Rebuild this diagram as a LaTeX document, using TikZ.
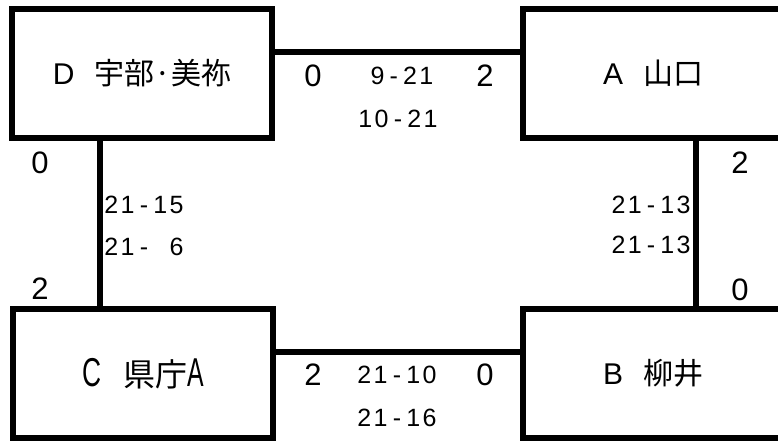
\documentclass[tikz,border=0pt]{standalone}
\usepackage{fontspec}
\setmainfont{Liberation Sans}
\newfontfamily\cjk{Noto Sans CJK JP}
\newcommand\cel[1]{\makebox[16.3pt]{#1}}
\newcommand\cj[1]{{\cjk\fontsize{30}{30}\selectfont #1}}
\newcommand\lt[1]{{\fontsize{30}{30}\selectfont #1}}
\begin{document}
\begin{tikzpicture}[x=1pt,y=-1pt,
  team/.style={draw,line width=6pt,minimum width=260pt,minimum height=129pt,inner sep=0pt},
  link/.style={line width=6pt},
  big/.style={inner sep=0pt,font=\fontsize{31}{31}\selectfont},
  small/.style={inner sep=0pt,font=\fontsize{25}{25}\selectfont}]
\clip (0,0) rectangle (778,441);
\fill[white] (0,0) rectangle (778,441);
\node[team] (D) at (142,73.5) {\lt{D}\hspace{20pt}\cj{宇部·美祢}};
\node[team] (A) at (653,73.5) {\lt{A}\hspace{20pt}\cj{山口}};
\node[team] (C) at (143,373.5) {\raisebox{-8pt}{\fontsize{31}{31}\selectfont\scalebox{0.85}[1.3]{C}\hspace{22pt}{\cjk\fontsize{32}{32}\selectfont 県庁}\scalebox{0.8}[1.3]{A}}};
\node[team] (B) at (653,373.5) {\lt{B}\hspace{20pt}\cj{柳井}};
\draw[link] ([yshift=21.5pt]D.east) -- ([yshift=21.5pt]A.west);
\draw[link] ([yshift=21.5pt]C.east) -- ([yshift=21.5pt]B.west);
\draw[link] ([xshift=-42pt]D.south) -- ([xshift=-43pt]C.north);
\draw[link] ([xshift=43pt]A.south) -- ([xshift=43pt]B.north);
% top match
\node[big] (t1) at (313,76) {0};
\node[big] (t2) at (485,76) {2};
\node[small] (t3) at (402,76) {\cel9\cel-\cel2\cel1};
\node[small] (t4) at (398,119) {\cel1\cel0\cel-\cel2\cel1};
% bottom match
\node[big] (b1) at (313,375) {2};
\node[big] (b2) at (485,375) {0};
\node[small] (b3) at (397,375) {\cel2\cel1\cel-\cel1\cel0};
\node[small] (b4) at (397,418) {\cel2\cel1\cel-\cel1\cel6};
% left match
\node[big] (l1) at (40,163) {0};
\node[big] (l2) at (40,289) {2};
\node[small,anchor=west] (l3) at (103,205) {\cel2\cel1\cel-\cel1\cel5};
\node[small,anchor=west] (l4) at (103,247) {\cel2\cel1\cel-\cel{}\cel6};
% right match
\node[big] (r1) at (740,163) {2};
\node[big] (r2) at (740,290) {0};
\node[small,anchor=east] (r3) at (692,205) {\cel2\cel1\cel-\cel1\cel3};
\node[small,anchor=east] (r4) at (692,245) {\cel2\cel1\cel-\cel1\cel3};
\end{tikzpicture}
\end{document}
